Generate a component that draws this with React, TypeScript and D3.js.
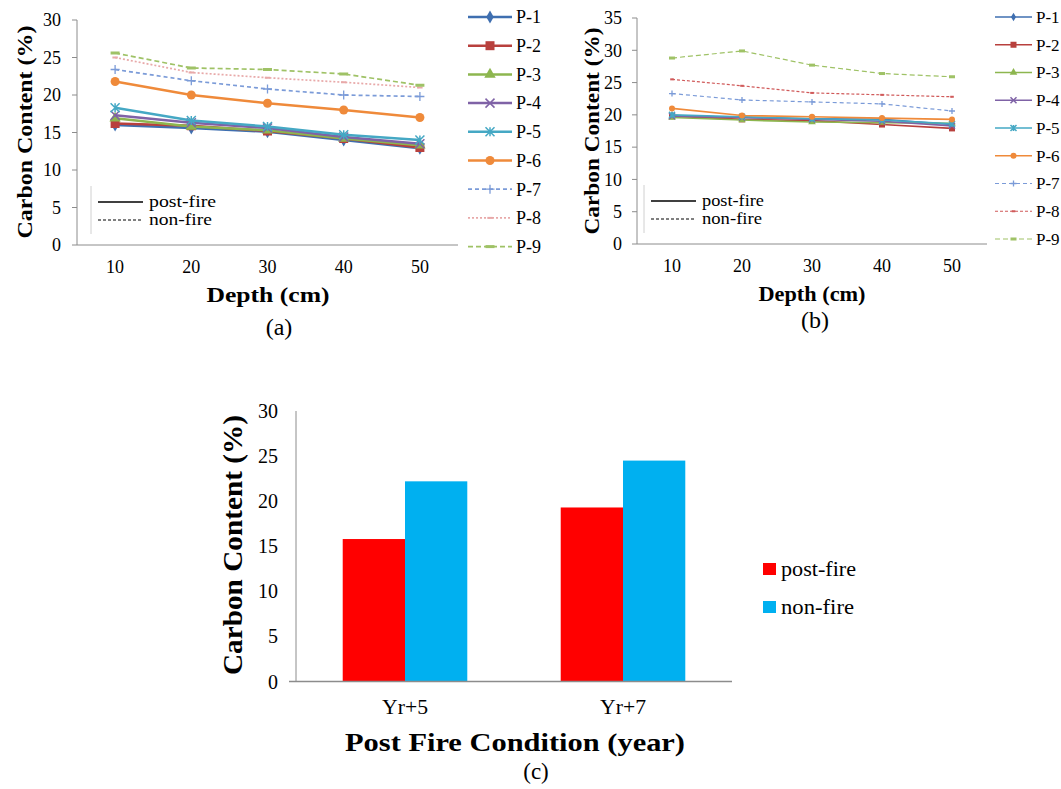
import React from "react";
import * as d3 from "d3";

const FONT = "Liberation Serif";
const AXIS_COLOR = "#8c8c8c";

const depths = ["10", "20", "30", "40", "50"];
const plotNames = ["P-1", "P-2", "P-3", "P-4", "P-5", "P-6", "P-7", "P-8", "P-9"];

// panel (a) values, % carbon by depth
const valuesA = [
  [16.0, 15.6, 15.1, 14.0, 12.9],
  [16.2, 15.9, 15.2, 14.2, 13.0],
  [16.9, 15.8, 15.3, 14.2, 13.3],
  [17.3, 16.3, 15.6, 14.4, 13.5],
  [18.3, 16.6, 15.8, 14.7, 14.0],
  [21.8, 20.0, 18.9, 18.0, 17.0],
  [23.4, 21.9, 20.8, 20.0, 19.8],
  [25.0, 23.0, 22.3, 21.7, 21.0],
  [25.6, 23.6, 23.4, 22.8, 21.3],
];

// panel (b) values
const valuesB = [
  [19.9, 19.6, 19.4, 19.3, 18.5],
  [19.8, 19.3, 19.1, 18.5, 17.9],
  [19.6, 19.2, 18.9, 18.8, 18.7],
  [19.8, 19.6, 19.3, 19.0, 18.3],
  [20.0, 19.7, 19.4, 19.2, 18.6],
  [21.0, 19.9, 19.7, 19.5, 19.3],
  [23.3, 22.3, 22.0, 21.7, 20.6],
  [25.5, 24.5, 23.4, 23.1, 22.8],
  [28.8, 29.9, 27.7, 26.4, 25.9],
];

const conditions = ["Yr+5", "Yr+7"];
const barSeries = ["post-fire", "non-fire"];
const barValues = [
  [15.8, 22.2],
  [19.3, 24.5],
];

const ticksA = [0, 5, 10, 15, 20, 25, 30];
const ticksB = [0, 5, 10, 15, 20, 25, 30, 35];
const ticksC = [0, 5, 10, 15, 20, 25, 30];

type Style = { color: string; dash: string | null; marker: string };
const stylesA: Style[] = [
  { color: "#3f6fb0", dash: null, marker: "diamond" },
  { color: "#b8403d", dash: null, marker: "square" },
  { color: "#8db64f", dash: null, marker: "triangle" },
  { color: "#7f62a6", dash: null, marker: "x" },
  { color: "#45a8c4", dash: null, marker: "star" },
  { color: "#ef8a3a", dash: null, marker: "circle" },
  { color: "#7b9bd8", dash: "4,3", marker: "plus" },
  { color: "#e8a9a9", dash: "2,2", marker: "dash" },
  { color: "#9fc266", dash: "5,3", marker: "bar" },
];
const stylesB: Style[] = stylesA.map((s, i) =>
  i === 7 ? { ...s, color: "#d05a5a", dash: "3,2" } : s
);

function Marker({ type, x, y, size, color }: { type: string; x: number; y: number; size: number; color: string }) {
  const r = size / 2;
  if (type === "circle") return <circle cx={x} cy={y} r={r} fill={color} />;
  if (type === "square") return <rect x={x - r} y={y - r} width={size} height={size} fill={color} />;
  if (type === "diamond") {
    const path = d3.symbol(d3.symbolDiamond, size * size * 0.6)();
    return <path d={path || ""} transform={`translate(${x},${y})`} fill={color} />;
  }
  if (type === "triangle") {
    const path = d3.symbol(d3.symbolTriangle, size * size * 0.7)();
    return <path d={path || ""} transform={`translate(${x},${y})`} fill={color} />;
  }
  if (type === "x")
    return (
      <path d={`M${x - r},${y - r}L${x + r},${y + r}M${x - r},${y + r}L${x + r},${y - r}`} stroke={color} strokeWidth={1.5} />
    );
  if (type === "star")
    return (
      <path
        d={`M${x - r},${y - r}L${x + r},${y + r}M${x - r},${y + r}L${x + r},${y - r}M${x},${y - r}L${x},${y + r}`}
        stroke={color}
        strokeWidth={1.5}
      />
    );
  if (type === "plus")
    return <path d={`M${x - r},${y}L${x + r},${y}M${x},${y - r}L${x},${y + r}`} stroke={color} strokeWidth={1.3} />;
  if (type === "dash") return <rect x={x - r * 0.6} y={y - 1} width={r * 1.2} height={2} fill={color} />;
  if (type === "bar") return <rect x={x - r} y={y - 1.5} width={size} height={3} fill={color} />;
  return null;
}

type PanelProps = {
  values: number[][];
  styles: Style[];
  ticks: number[];
  x0: number;
  x1: number;
  yTop: number;
  yBottom: number;
  lineWidth: number;
  markerSize: number;
  tickFont: number;
  tickLabelX: number;
  titleX: number;
  titleY: number;
  titleFont: number;
  titleLen: number;
  xTitleX: number;
  xTitleLen: number;
  label: string;
  labelX: number;
  labelY: number;
  legendX: number;
  legendLen: number;
  legendStep: number;
  legendFont: number;
  fireBoxX: number;
  fireLens: number[];
};

function LinePanel(p: PanelProps) {
  const yMax = p.ticks[p.ticks.length - 1];
  const x = d3.scaleBand().domain(depths).range([p.x0, p.x1]);
  const y = d3.scaleLinear().domain([0, yMax]).range([p.yBottom, p.yTop]);
  const cx = (d: string) => (x(d) as number) + x.bandwidth() / 2;
  const line = d3
    .line<number>()
    .x((_, i) => cx(depths[i]))
    .y((v) => y(v));
  const sw = (s: Style) => (s.dash ? Math.max(1.2, p.lineWidth - 0.8) : p.lineWidth);

  return (
    <g fontFamily={FONT}>
      {/* axes */}
      <line x1={p.x0} x2={p.x0} y1={p.yTop} y2={p.yBottom} stroke={AXIS_COLOR} />
      <line x1={p.x0} x2={p.x1} y1={p.yBottom} y2={p.yBottom} stroke={AXIS_COLOR} />
      {p.ticks.map((t) => (
        <g key={t}>
          <line x1={p.x0 - 5} x2={p.x0} y1={y(t)} y2={y(t)} stroke={AXIS_COLOR} />
          <text x={p.tickLabelX} y={y(t)} dy="0.35em" textAnchor="end" fontSize={p.tickFont}>
            {t}
          </text>
        </g>
      ))}
      {depths.map((d) => (
        <text key={d} x={cx(d)} y={p.yBottom + 28} textAnchor="middle" fontSize={p.tickFont}>
          {d}
        </text>
      ))}
      <text
        transform={`translate(${p.titleX},${p.titleY}) rotate(-90)`}
        textAnchor="middle"
        dy="0.35em"
        fontSize={p.titleFont}
        fontWeight="bold"
        textLength={p.titleLen}
        lengthAdjust="spacingAndGlyphs"
      >
        Carbon Content (%)
      </text>
      <text
        x={p.xTitleX}
        y={p.yBottom + 57}
        textAnchor="middle"
        fontSize={p.titleFont}
        fontWeight="bold"
        textLength={p.xTitleLen}
        lengthAdjust="spacingAndGlyphs"
      >
        Depth (cm)
      </text>
      <text x={p.labelX} y={p.labelY} textAnchor="middle" fontSize={24}>
        {p.label}
      </text>

      {/* series */}
      {p.values.map((vals, i) => {
        const s = p.styles[i];
        return (
          <g key={plotNames[i]}>
            <path
              d={line(vals) || ""}
              fill="none"
              stroke={s.color}
              strokeWidth={sw(s)}
              strokeDasharray={s.dash || undefined}
            />
            {vals.map((v, j) => (
              <Marker key={j} type={s.marker} x={cx(depths[j])} y={y(v)} size={p.markerSize} color={s.color} />
            ))}
          </g>
        );
      })}

      {/* post-fire / non-fire key */}
      <line x1={p.fireBoxX} x2={p.fireBoxX} y1={p.yBottom - 59} y2={p.yBottom - 11} stroke="#d0d0d0" />
      <line x1={p.fireBoxX + 7} x2={p.fireBoxX + 52} y1={p.yBottom - 43} y2={p.yBottom - 43} stroke="#000" strokeWidth={1.3} />
      <text
        x={p.fireBoxX + 58}
        y={p.yBottom - 43}
        dy="0.32em"
        fontSize={17}
        textLength={p.fireLens[0]}
        lengthAdjust="spacingAndGlyphs"
      >
        post-fire
      </text>
      <line
        x1={p.fireBoxX + 7}
        x2={p.fireBoxX + 52}
        y1={p.yBottom - 25}
        y2={p.yBottom - 25}
        stroke="#000"
        strokeWidth={1}
        strokeDasharray="3,2"
      />
      <text
        x={p.fireBoxX + 58}
        y={p.yBottom - 25}
        dy="0.32em"
        fontSize={17}
        textLength={p.fireLens[1]}
        lengthAdjust="spacingAndGlyphs"
      >
        non-fire
      </text>

      {/* series legend */}
      {plotNames.map((name, i) => {
        const s = p.styles[i];
        const ly = 17 + i * p.legendStep;
        return (
          <g key={name}>
            <line
              x1={p.legendX}
              x2={p.legendX + p.legendLen}
              y1={ly}
              y2={ly}
              stroke={s.color}
              strokeWidth={sw(s)}
              strokeDasharray={s.dash || undefined}
            />
            <Marker type={s.marker} x={p.legendX + p.legendLen / 2} y={ly} size={p.markerSize} color={s.color} />
            <text x={p.legendX + p.legendLen + 4} y={ly} dy="0.35em" fontSize={p.legendFont}>
              {name}
            </text>
          </g>
        );
      })}
    </g>
  );
}

function BarPanel() {
  const x0 = 296;
  const x1 = 732;
  const yTop = 411;
  const yBottom = 681.5;
  const x = d3.scaleBand().domain(conditions).range([x0, x1]);
  const bw = x.bandwidth();
  const pad = (bw * 0.375) / 1.75;
  const xs = d3.scaleBand().domain(barSeries).range([pad, bw - pad]);
  const y = d3.scaleLinear().domain([0, 30]).range([yBottom, yTop]);
  const color = d3.scaleOrdinal<string>().domain(barSeries).range(["#ff0000", "#00b0f0"]);
  const legendLens = [75, 73];

  return (
    <g fontFamily={FONT}>
      {barValues.map((vals, i) =>
        vals.map((v, j) => (
          <rect
            key={`${i}-${j}`}
            x={(x(conditions[i]) as number) + (xs(barSeries[j]) as number)}
            y={y(v)}
            width={xs.bandwidth()}
            height={yBottom - y(v)}
            fill={color(barSeries[j])}
          />
        ))
      )}
      <line x1={x0} x2={x0} y1={yTop} y2={yBottom} stroke={AXIS_COLOR} />
      <line x1={x0 - 7} x2={x1} y1={yBottom} y2={yBottom} stroke={AXIS_COLOR} strokeWidth={1.3} />
      {ticksC.map((t) => (
        <text key={t} x={278} y={y(t)} dy="0.35em" textAnchor="end" fontSize={20}>
          {t}
        </text>
      ))}
      {conditions.map((c) => (
        <text
          key={c}
          x={(x(c) as number) + bw / 2}
          y={714}
          textAnchor="middle"
          fontSize={20}
          textLength={46}
          lengthAdjust="spacingAndGlyphs"
        >
          {c}
        </text>
      ))}
      <text
        transform="translate(233,545) rotate(-90)"
        textAnchor="middle"
        dy="0.35em"
        fontSize={27}
        fontWeight="bold"
        textLength={260}
        lengthAdjust="spacingAndGlyphs"
      >
        Carbon Content (%)
      </text>
      <text
        x={515}
        y={751}
        textAnchor="middle"
        fontSize={26}
        fontWeight="bold"
        textLength={340}
        lengthAdjust="spacingAndGlyphs"
      >
        Post Fire Condition (year)
      </text>
      <text x={536} y={779} textAnchor="middle" fontSize={23}>
        (c)
      </text>
      {barSeries.map((s, j) => (
        <g key={s}>
          <rect x={763} y={563 + j * 38} width={13} height={12} fill={color(s)} />
          <text
            x={781}
            y={569 + j * 38}
            dy="0.35em"
            fontSize={21}
            textLength={legendLens[j]}
            lengthAdjust="spacingAndGlyphs"
          >
            {s}
          </text>
        </g>
      ))}
    </g>
  );
}

export default function App() {
  return (
    <svg
      width={1061}
      height={789}
      fontFamily={FONT}
      style={{ position: "absolute", left: 0, top: 0, background: "#fff" }}
    >
      <rect width={1061} height={789} fill="#fff" />
      <LinePanel
        values={valuesA}
        styles={stylesA}
        ticks={ticksA}
        x0={77}
        x1={458}
        yTop={20}
        yBottom={245}
        lineWidth={2.5}
        markerSize={9}
        tickFont={18}
        tickLabelX={61}
        titleX={24}
        titleY={132}
        titleFont={22}
        titleLen={213}
        xTitleX={268}
        xTitleLen={123}
        label="(a)"
        labelX={279}
        labelY={335}
        legendX={468}
        legendLen={44}
        legendStep={28.7}
        legendFont={18}
        fireBoxX={91}
        fireLens={[67, 63]}
      />
      <LinePanel
        values={valuesB}
        styles={stylesB}
        ticks={ticksB}
        x0={637}
        x1={987}
        yTop={18}
        yBottom={244}
        lineWidth={1.6}
        markerSize={6}
        tickFont={18}
        tickLabelX={622}
        titleX={592}
        titleY={131}
        titleFont={21}
        titleLen={207}
        xTitleX={812}
        xTitleLen={107}
        label="(b)"
        labelX={815}
        labelY={328}
        legendX={995}
        legendLen={37}
        legendStep={27.75}
        legendFont={17}
        fireBoxX={644}
        fireLens={[62, 60]}
      />
      <BarPanel />
    </svg>
  );
}
